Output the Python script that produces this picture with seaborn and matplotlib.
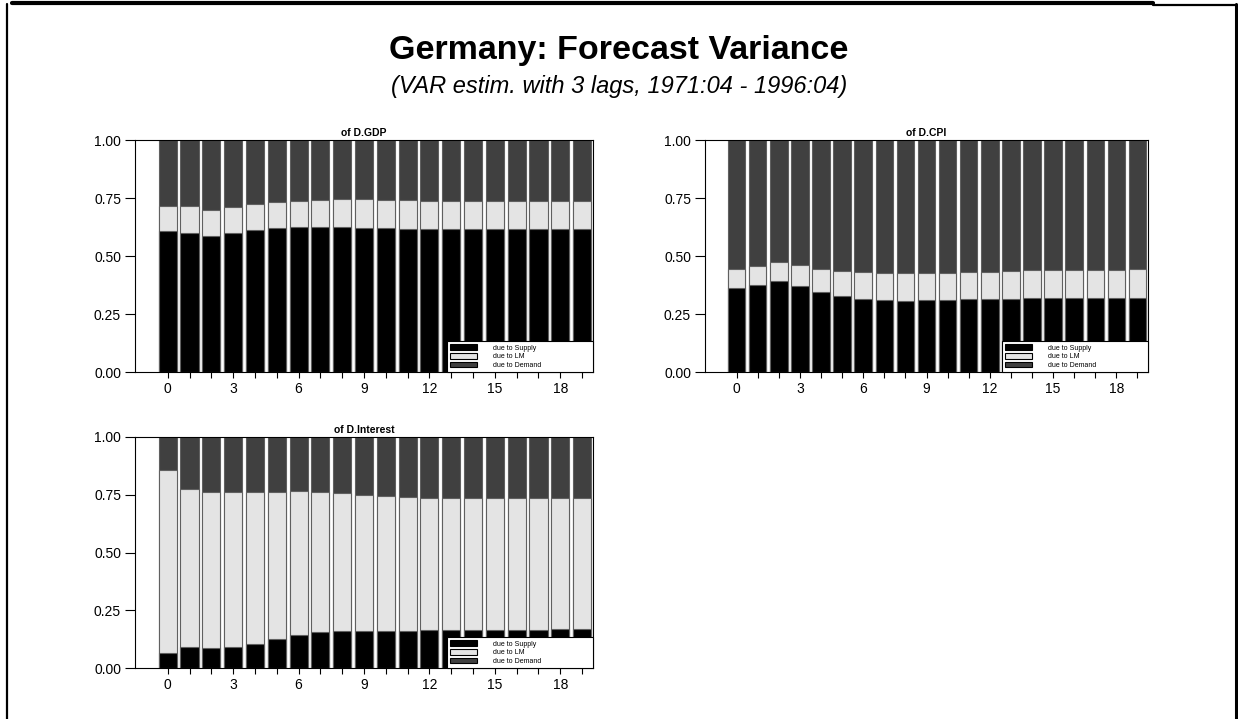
import numpy as np
import pandas as pd
import matplotlib
matplotlib.use("Agg")
import matplotlib.pyplot as plt
from matplotlib.patches import Patch
from matplotlib.lines import Line2D
import seaborn as sns

# forecast horizons
horizon = list(range(20))

# GDP: variance shares
gdp_supply = [0.608, 0.598, 0.585, 0.598, 0.614, 0.620, 0.626, 0.626, 0.623, 0.621,
              0.620, 0.618, 0.617, 0.617, 0.615, 0.615, 0.615, 0.615, 0.615, 0.615]
gdp_lm = [0.108, 0.118, 0.114, 0.112, 0.109, 0.112, 0.111, 0.116, 0.122, 0.124,
          0.122, 0.124, 0.122, 0.122, 0.124, 0.124, 0.124, 0.124, 0.124, 0.124]
gdp_demand = [0.284, 0.284, 0.301, 0.290, 0.277, 0.268, 0.263, 0.258, 0.255, 0.255,
              0.258, 0.258, 0.261, 0.261, 0.261, 0.261, 0.261, 0.261, 0.261, 0.261]

# CPI
cpi_supply = [0.360, 0.376, 0.393, 0.370, 0.346, 0.327, 0.316, 0.310, 0.308, 0.310,
              0.311, 0.313, 0.316, 0.316, 0.317, 0.318, 0.318, 0.320, 0.320, 0.321]
cpi_lm = [0.086, 0.083, 0.083, 0.092, 0.100, 0.109, 0.113, 0.118, 0.117, 0.118,
          0.117, 0.119, 0.117, 0.120, 0.121, 0.120, 0.120, 0.119, 0.119, 0.121]
cpi_demand = [0.554, 0.541, 0.524, 0.538, 0.554, 0.564, 0.571, 0.572, 0.575, 0.572,
              0.572, 0.568, 0.567, 0.564, 0.562, 0.562, 0.562, 0.561, 0.561, 0.558]

# Interest rate
int_supply = [0.065, 0.091, 0.086, 0.091, 0.105, 0.125, 0.142, 0.154, 0.160, 0.161,
              0.161, 0.161, 0.163, 0.164, 0.164, 0.164, 0.166, 0.166, 0.168, 0.168]
int_lm = [0.790, 0.685, 0.678, 0.670, 0.658, 0.638, 0.625, 0.610, 0.598, 0.589,
          0.584, 0.580, 0.575, 0.574, 0.574, 0.574, 0.572, 0.572, 0.570, 0.570]
int_demand = [0.145, 0.224, 0.236, 0.239, 0.237, 0.237, 0.233, 0.236, 0.242, 0.250,
              0.255, 0.259, 0.262, 0.262, 0.262, 0.262, 0.262, 0.262, 0.262, 0.262]

shock_labels = ["due to Supply", "due to LM", "due to Demand"]
shock_colors = ["#000000", "#e4e4e4", "#404040"]

panels = [
    ("of D.GDP", gdp_supply, gdp_lm, gdp_demand, [135, 140, 593, 372]),
    ("of D.CPI", cpi_supply, cpi_lm, cpi_demand, [705, 140, 1148, 372]),
    ("of D.Interest", int_supply, int_lm, int_demand, [135, 437, 593, 668]),
]

sns.set_style("white")
plt.rcParams["font.family"] = ["Liberation Sans", "DejaVu Sans"]
plt.rcParams["text.color"] = "black"
plt.rcParams["xtick.color"] = "black"
plt.rcParams["ytick.color"] = "black"
plt.rcParams["axes.labelcolor"] = "black"

W, H = 1238, 719
fig = plt.figure(figsize=(W / 100, H / 100), dpi=100)

for title, sup, lm, dem, (x0, y0, x1, y1) in panels:
    ax = fig.add_axes([x0 / W, 1 - y1 / H, (x1 - x0) / W, (y1 - y0) / H])
    df = pd.DataFrame({"h": horizon, "Supply": sup, "LM": lm, "Demand": dem})
    cum = df[["Supply", "LM", "Demand"]].cumsum(axis=1)
    # draw stacked bars from the top down
    for col, c in zip(["Demand", "LM", "Supply"], shock_colors[::-1]):
        sns.barplot(x=df["h"], y=cum[col], color=c, width=0.83, edgecolor="#606060",
                    linewidth=0.8, saturation=1, ax=ax)
    ax.set_xlim(-1.5, 19.5)
    ax.set_ylim(0, 1)
    ax.set_xticks(horizon)
    ax.set_xticklabels([str(h) if h % 3 == 0 else "" for h in horizon])
    ax.set_yticks([0, 0.25, 0.5, 0.75, 1.0])
    ax.set_yticklabels(["0.00", "0.25", "0.50", "0.75", "1.00"])
    ax.set_xlabel("")
    ax.set_ylabel("")
    ax.tick_params(axis="y", direction="out", length=7, width=0.8, labelsize=10, pad=3,
                   left=True, colors="black")
    ax.tick_params(axis="x", direction="out", length=4, width=0.8, labelsize=10, pad=3,
                   bottom=True, colors="black")
    for s in ax.spines.values():
        s.set_color("black")
        s.set_linewidth(0.8)
    ax.set_title(title, fontsize=7.5, fontweight="bold", pad=3, color="black")
    handles = [Patch(facecolor=c, edgecolor="black", linewidth=0.8) for c in shock_colors]
    leg = ax.legend(handles, shock_labels, loc="lower left",
                    bbox_to_anchor=(1 - 146 / (x1 - x0), 0, 146 / (x1 - x0), 0.13),
                    mode="expand", borderaxespad=0, fontsize=5, frameon=True,
                    fancybox=False, edgecolor="black", framealpha=1,
                    handlelength=3.8, handleheight=0.9, handletextpad=2.4,
                    labelspacing=0.2, borderpad=0.45)
    leg.get_frame().set_linewidth(0.8)

fig.text(0.5, 1 - 50 / H, "Germany: Forecast Variance", ha="center", va="center",
         fontsize=24.5, fontweight="bold")
fig.text(0.5, 1 - 87 / H, "(VAR estim. with 3 lags, 1971:04 - 1996:04)", ha="center",
         va="center", fontsize=17, style="italic")

# page frame
fig.add_artist(Line2D([12 / W, 1153 / W], [1 - 3 / H, 1 - 3 / H], color="black", lw=3,
                      transform=fig.transFigure))
fig.add_artist(Line2D([1153 / W, 1236 / W], [1 - 4.5 / H, 1 - 4.5 / H], color="black", lw=1.6,
                      transform=fig.transFigure))
fig.add_artist(Line2D([7 / W, 7 / W], [0, 1 - 4 / H], color="black", lw=1.6,
                      transform=fig.transFigure))
fig.add_artist(Line2D([1235.5 / W, 1235.5 / W], [0, 1 - 4 / H], color="black", lw=2.2,
                      transform=fig.transFigure))

fig.savefig("out.png", dpi=100)
